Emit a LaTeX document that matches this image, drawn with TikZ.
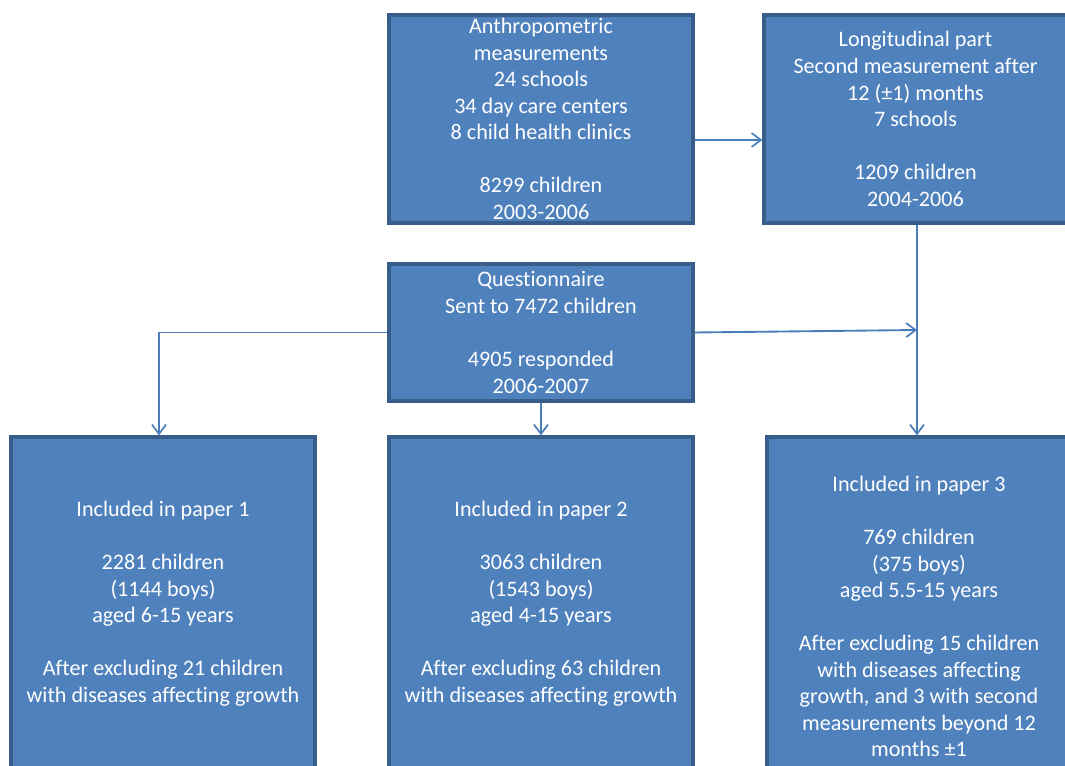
\documentclass[tikz,border=0pt]{standalone}
\usepackage{fontspec}
\setmainfont[Ligatures={NoCommon}]{Carlito}
\usetikzlibrary{arrows.meta,calc}
\definecolor{boxfill}{HTML}{4F81BD}
\definecolor{boxline}{HTML}{385D8A}
\definecolor{connline}{HTML}{4A7EBB}
\tikzset{
  flowbox/.style={draw=boxline, fill=boxfill, line width=2.4pt, text=white,
    align=center, inner sep=0pt, minimum width=228pt,
    font=\fontsize{16.6pt}{19.9pt}\selectfont},
  conn/.style={draw=connline, line width=1.4pt,
    -{Straight Barb[length=7pt,width=10.5pt,line width=1.3pt]}}
}
\begin{document}
\begin{tikzpicture}[x=0.75pt,y=-0.75pt]
\clip (0,0) rectangle (1065,766);
\fill[white] (0,0) rectangle (1065,766);
\node[flowbox, minimum height=156pt] (A) at (541,119)
  {Anthropometric\\measurements\\24 schools\\34 day care centers\\8 child health clinics\\[19.9pt]8299 children\\2003-2006};
\node[flowbox, minimum width=227.25pt, minimum height=156pt] (L) at (915.5,119)
  {Longitudinal part\\Second measurement after\\12 (±1) months\\7 schools\\[19.9pt]1209 children\\2004-2006};
\node[flowbox, minimum height=102.75pt] (Q) at (541,332.5)
  {Questionnaire\\Sent to 7472 children\\[19.9pt]4905 responded\\2006-2007};
\node[flowbox, minimum height=249.75pt] (P1) at (163,603.5)
  {Included in paper 1\\[19.9pt]2281 children\\(1144 boys)\\aged 6-15 years\\[19.9pt]After excluding 21 children\\with diseases affecting growth};
\node[flowbox, minimum height=249.75pt] (P2) at (541,603.5)
  {Included in paper 2\\[19.9pt]3063 children\\(1543 boys)\\aged 4-15 years\\[19.9pt]After excluding 63 children\\with diseases affecting growth};
\node[flowbox, minimum height=269.25pt] (P3) at (919,616.5)
  {Included in paper 3\\[19.9pt]769 children\\(375 boys)\\aged 5.5-15 years\\[19.9pt]After excluding 15 children\\with diseases affecting\\growth, and 3 with second\\measurements beyond 12\\months ±1};
\coordinate (j) at (917,330);
\draw[conn] ([yshift=-15.75pt]A.east) -- ([yshift=-15.75pt]L.west);
\draw[conn] (L.south -| j) -- (P3.north -| j);
\draw[conn] (Q.east) -- (j);
\draw[conn] (Q.west) -| ([xshift=-3pt]P1.north);
\draw[conn] (Q.south) -- (P2.north);
\end{tikzpicture}
\end{document}
